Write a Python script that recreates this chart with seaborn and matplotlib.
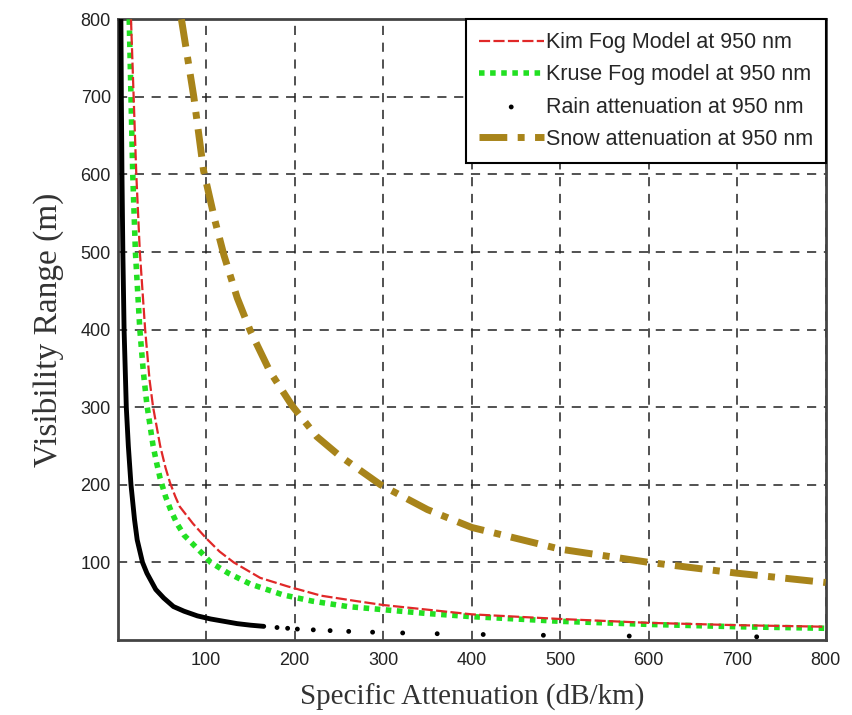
import matplotlib
matplotlib.use("Agg")
import matplotlib.pyplot as plt
import seaborn as sns

# values (x: dB/km, y: visibility in m)
kim_x = [15, 18, 21, 25, 31, 36, 40, 48, 54, 59, 65, 70, 85, 100, 115, 131, 161, 192, 230, 270, 300, 350, 400, 450, 500, 600, 700, 800]
kim_y = [800, 700, 600, 500, 400, 335, 300, 250, 222, 203, 185, 172, 150, 131, 114, 100, 80, 69, 57, 50, 45, 39, 33, 30, 27, 22, 19, 17]

kruse_x = [13, 15, 17, 20, 25, 29, 33, 40, 44, 48, 54, 60, 67, 75, 95, 105, 125, 150, 187, 220, 260, 300, 350, 400, 450, 500, 600, 700, 800]
kruse_y = [800, 700, 600, 500, 400, 345, 303, 250, 228, 208, 185, 167, 150, 135, 112, 100, 86, 72, 58, 50, 43, 39, 34, 30, 27, 24, 20, 17, 15]

# rain: dense part looks like a solid trace, far part is single dots
rain_x = [3.6, 4.1, 4.8, 5.8, 7.2, 9.7, 12, 15, 19, 22, 28, 33, 43, 52, 63, 75, 90, 105, 120, 135, 150, 165]
rain_y = [800, 700, 600, 500, 400, 300, 250, 200, 155, 129, 100, 86, 65, 54, 43, 37, 31, 27, 24, 21, 19, 17.5]
rain_dot_x = [180, 192, 203, 221, 240, 261, 288, 322, 361, 413, 481, 578, 722]
rain_dot_y = [16, 15, 14, 13, 12, 11, 10, 9, 8, 7, 6, 5, 4]

snow_x = [72, 86, 97, 110, 120, 135, 150, 172, 197, 225, 250, 297, 350, 400, 500, 600, 700, 800]
snow_y = [800, 700, 605, 540, 496, 441, 398, 346, 302, 262, 238, 200, 168, 145, 117, 100, 86, 74]

x_ticks = [100, 200, 300, 400, 500, 600, 700, 800]
y_ticks = [100, 200, 300, 400, 500, 600, 700, 800]

sns.set_style("white")
plt.rcParams['font.family'] = ['Liberation Sans', 'DejaVu Sans']

fig = plt.figure(figsize=(8.53, 7.15), dpi=100)
ax = fig.add_axes([0.138, 0.105, 0.830, 0.868])

sns.lineplot(x=kim_x, y=kim_y, ax=ax, color='#e02828', linewidth=1.6,
             linestyle=(0, (5, 1.5)), label='Kim Fog Model at 950 nm', zorder=4)
sns.lineplot(x=kruse_x, y=kruse_y, ax=ax, color='#22e022', linewidth=4,
             linestyle=(0, (1, 1)), label='Kruse Fog model at 950 nm', zorder=3)
sns.lineplot(x=rain_x, y=rain_y, ax=ax, color='black', linewidth=3.5, zorder=5)
sns.scatterplot(x=rain_dot_x, y=rain_dot_y, ax=ax, color='black', s=12,
                marker='o', edgecolor='none', label='Rain attenuation at 950 nm', zorder=5)
sns.lineplot(x=snow_x, y=snow_y, ax=ax, color='#a8841a', linewidth=5,
             linestyle=(0, (4, 1.5, 1, 1.5)), label='Snow attenuation at 950 nm', zorder=3)

ax.set_xlim(0, 800)
ax.set_ylim(0, 800)
ax.set_xticks(x_ticks)
ax.set_yticks(y_ticks)
ax.grid(True, color='#222222', linestyle=(0, (6, 5)), linewidth=1.1)
ax.tick_params(direction='in', length=5, labelsize=13, colors='#222222')
ax.tick_params(axis='x', pad=9)
ax.tick_params(axis='y', pad=5)
for s in ax.spines.values():
    s.set_linewidth(2)
    s.set_color('#444444')

ax.set_xlabel('Specific Attenuation (dB/km)', fontsize=21,
              family=['Liberation Serif'], color='#333333', labelpad=10)
ax.set_ylabel('Visibility Range (m)', fontsize=24,
              family=['Liberation Serif'], color='#333333', labelpad=12)

leg = ax.legend(loc='upper right', borderaxespad=0, fontsize=15.5, frameon=True,
                fancybox=False, edgecolor='black', handlelength=3.0,
                handletextpad=0.1, labelspacing=0.52, borderpad=0.6)
leg.get_frame().set_linewidth(1.5)
leg.get_frame().set_alpha(1)

fig.savefig('out.png', dpi=100)
